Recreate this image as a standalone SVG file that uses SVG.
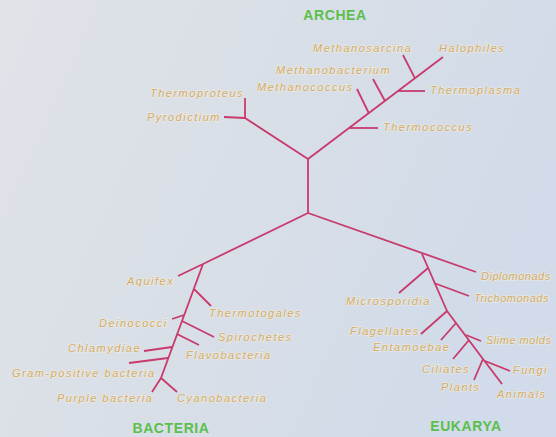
<svg xmlns="http://www.w3.org/2000/svg" width="556" height="437" viewBox="0 0 556 437">
  <defs>
    <linearGradient id="bg" x1="0" y1="0" x2="1" y2="0.35">
      <stop offset="0" stop-color="#e0e3e8"/>
      <stop offset="0.5" stop-color="#d9dfe7"/>
      <stop offset="1" stop-color="#d1dbe9"/>
    </linearGradient>
    <style>
      .edge { fill: none; stroke: #c83a6c; stroke-width: 1.8; stroke-linejoin: round; }
      .lbl { font-family: "Liberation Sans", Arial, sans-serif; font-style: italic; font-size: 11px; letter-spacing: 1.5px; fill: #d2ac66; stroke: #f2ede3; stroke-width: 1.4px; stroke-opacity: 0.75; paint-order: stroke; }
      .tight { letter-spacing: 0.5px; }
      .dom { font-family: "Liberation Sans", Arial, sans-serif; font-weight: bold; font-size: 14px; letter-spacing: 0.6px; fill: #5cbf4c; text-anchor: middle; }
    </style>
  </defs>
  <rect width="556" height="437" fill="url(#bg)"/>

  <g id="connectors">
    <!-- central -->
    <line class="edge" x1="308" y1="213" x2="308" y2="159"/>
    <!-- archaea -->
    <line class="edge" x1="308" y1="159" x2="245" y2="118"/>
    <line class="edge" x1="245" y1="98" x2="245" y2="118"/>
    <line class="edge" x1="224" y1="117" x2="245" y2="118"/>
    <line class="edge" x1="308" y1="159" x2="443" y2="57"/>
    <line class="edge" x1="350" y1="128" x2="378" y2="128"/>
    <line class="edge" x1="369" y1="113.5" x2="357" y2="89"/>
    <line class="edge" x1="385" y1="101" x2="373" y2="79"/>
    <line class="edge" x1="398" y1="91" x2="425" y2="91"/>
    <line class="edge" x1="415" y1="78.4" x2="403" y2="55"/>
    <!-- bacteria -->
    <line class="edge" x1="308" y1="213" x2="203" y2="264"/>
    <line class="edge" x1="203" y1="264" x2="178" y2="276"/>
    <polyline class="edge" points="203,264 161,378 152,392"/>
    <line class="edge" x1="194" y1="289" x2="211" y2="306"/>
    <line class="edge" x1="184" y1="315" x2="172" y2="319"/>
    <line class="edge" x1="182" y1="321" x2="214" y2="337"/>
    <line class="edge" x1="177" y1="334" x2="199" y2="345"/>
    <line class="edge" x1="172" y1="347" x2="144" y2="351"/>
    <line class="edge" x1="168" y1="358" x2="129" y2="363"/>
    <line class="edge" x1="161" y1="378" x2="177" y2="392"/>
    <!-- eukarya -->
    <line class="edge" x1="308" y1="213" x2="476" y2="272"/>
    <polyline class="edge" points="422,254 447,311 483,359 502,384"/>
    <line class="edge" x1="428" y1="268" x2="399" y2="293"/>
    <line class="edge" x1="434" y1="283" x2="469" y2="296"/>
    <line class="edge" x1="447" y1="311" x2="421" y2="334"/>
    <line class="edge" x1="456" y1="323" x2="441" y2="340"/>
    <line class="edge" x1="466" y1="335" x2="481" y2="341"/>
    <line class="edge" x1="469" y1="340" x2="453" y2="359"/>
    <line class="edge" x1="483" y1="359" x2="474" y2="380"/>
    <line class="edge" x1="485" y1="361" x2="510" y2="371"/>
  </g>

  <g id="domain-archea"><text class="dom" x="335" y="20">ARCHEA</text></g>
  <g id="domain-bacteria"><text class="dom" x="171" y="433">BACTERIA</text></g>
  <g id="domain-eukarya"><text class="dom" x="466" y="431">EUKARYA</text></g>

  <g id="thermoproteus"><text class="lbl" x="150" y="97">Thermoproteus</text></g>
  <g id="pyrodictium"><text class="lbl" x="147" y="121">Pyrodictium</text></g>
  <g id="methanosarcina"><text class="lbl" x="313" y="52">Methanosarcina</text></g>
  <g id="halophiles"><text class="lbl" x="439" y="52">Halophiles</text></g>
  <g id="methanobacterium"><text class="lbl" x="276" y="74">Methanobacterium</text></g>
  <g id="methanococcus"><text class="lbl" x="257" y="91">Methanococcus</text></g>
  <g id="thermoplasma"><text class="lbl" x="430" y="94">Thermoplasma</text></g>
  <g id="thermococcus"><text class="lbl" x="383" y="131">Thermococcus</text></g>

  <g id="aquifex"><text class="lbl" x="127" y="285">Aquifex</text></g>
  <g id="thermotogales"><text class="lbl" x="209" y="317">Thermotogales</text></g>
  <g id="deinococci"><text class="lbl" x="99" y="327">Deinococci</text></g>
  <g id="spirochetes"><text class="lbl" x="218" y="341">Spirochetes</text></g>
  <g id="flavobacteria"><text class="lbl" x="186" y="359">Flavobacteria</text></g>
  <g id="chlamydiae"><text class="lbl" x="68" y="352">Chlamydiae</text></g>
  <g id="gram-positive"><text class="lbl" x="12" y="377">Gram-positive bacteria</text></g>
  <g id="purple-bacteria"><text class="lbl" x="57" y="402">Purple bacteria</text></g>
  <g id="cyanobacteria"><text class="lbl" x="177" y="402">Cyanobacteria</text></g>

  <g id="diplomonads"><text class="lbl tight" x="481" y="280">Diplomonads</text></g>
  <g id="trichomonads"><text class="lbl tight" x="474" y="302">Trichomonads</text></g>
  <g id="microsporidia"><text class="lbl" x="346" y="305">Microsporidia</text></g>
  <g id="flagellates"><text class="lbl" x="350" y="335">Flagellates</text></g>
  <g id="entamoebae"><text class="lbl" x="373" y="351">Entamoebae</text></g>
  <g id="slime-molds"><text class="lbl tight" x="486" y="344">Slime molds</text></g>
  <g id="ciliates"><text class="lbl" x="422" y="373">Ciliates</text></g>
  <g id="plants"><text class="lbl" x="441" y="391">Plants</text></g>
  <g id="fungi"><text class="lbl" x="513" y="374">Fungi</text></g>
  <g id="animals"><text class="lbl" x="497" y="398">Animals</text></g>
</svg>
